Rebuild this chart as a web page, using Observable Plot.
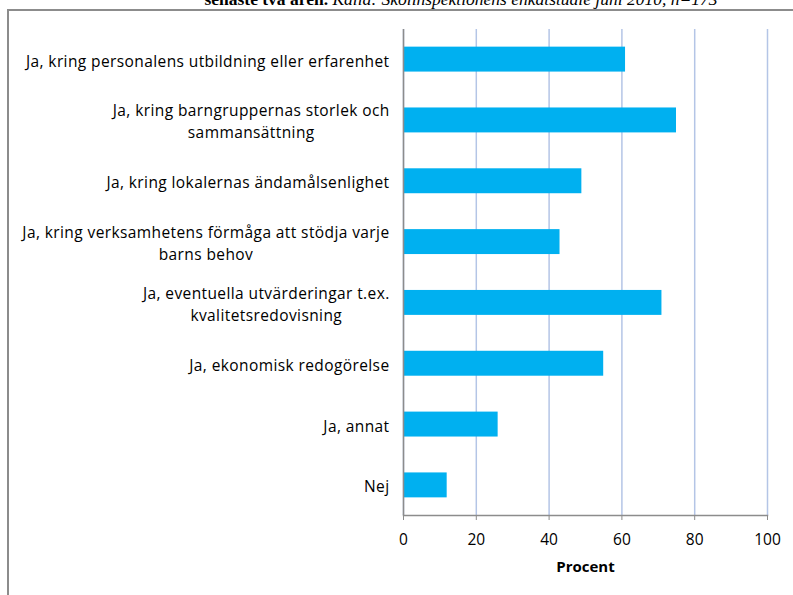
<!DOCTYPE html>
<html><head><meta charset="utf-8">
<script src="https://cdn.jsdelivr.net/npm/d3@7"></script>
<script src="https://cdn.jsdelivr.net/npm/@observablehq/plot@0.6"></script>
<style>
body{margin:0;background:#fff;width:793px;height:595px;overflow:hidden;position:relative;font-family:"Open Sans",sans-serif}
#frame{position:absolute;left:7px;top:9px;width:800px;height:600px;border-left:2px solid #8c8c8c;border-top:2px solid #8c8c8c}
#title{position:absolute;top:-11px;left:0;width:922px;text-align:center;font-family:"Liberation Serif",serif;font-size:17.5px;line-height:20px;white-space:nowrap;color:#000}
#chart{position:absolute;left:0;top:0}
#chart g[aria-label="y-axis tick label"] text{letter-spacing:0.4px}
</style></head><body>
<div id="title"><b>senaste två åren.</b> <i>Källa: Skolinspektionens enkätstudie juni 2010, n=173</i></div>
<div id="frame"></div>
<div id="chart"></div>
<script>
const categories = [
  "Ja, kring personalens utbildning eller erfarenhet",
  "Ja, kring barngruppernas storlek och\nsammansättning",
  "Ja, kring lokalernas ändamålsenlighet",
  "Ja, kring verksamhetens förmåga att stödja varje\nbarns behov",
  "Ja, eventuella utvärderingar t.ex.\nkvalitetsredovisning",
  "Ja, ekonomisk redogörelse",
  "Ja, annat",
  "Nej"
];
const values = [61, 75, 49, 43, 71, 55, 26, 12];
const xTicks = [0, 20, 40, 60, 80, 100];
const xLabel = "Procent";

const data = categories.map((c, i) => ({category: c, value: values[i]}));

const plot = Plot.plot({
  width: 793, height: 595,
  marginLeft: 403, marginRight: 26, marginTop: 29, marginBottom: 80,
  style: {fontFamily: "'Open Sans', sans-serif", fontSize: "15.5px", background: "transparent", color: "#000"},
  x: {domain: [0, 100], ticks: xTicks, label: null},
  y: {domain: categories, paddingInner: 0.59, paddingOuter: 0.29, round: false, label: null},
  marks: [
    Plot.gridX(xTicks, {stroke: "#b4c5e6", strokeOpacity: 1, strokeWidth: 1.5}),
    Plot.barX(data, {x: "value", y: "category", fill: "#00b0f0"}),
    Plot.ruleX([0], {stroke: "#8c8c8c", strokeWidth: 1.5}),
    Plot.frame({anchor: "bottom", stroke: "#8c8c8c", strokeWidth: 1.5}),
    Plot.axisX(xTicks, {tickSize: 5, tickPadding: 13, stroke: "#8c8c8c", fill: "#000", fontSize: 15.5, label: null}),
    Plot.axisY({tickSize: 0, tickPadding: 14, lineHeight: 1.42, fill: "#000", fontSize: 15.5, label: null}),
    Plot.text([xLabel], {frameAnchor: "bottom", dy: 56, fontWeight: "bold", fontSize: 15, fill: "#000"})
  ]
});
document.getElementById("chart").appendChild(plot);

// Center multi-line category labels on each other (right-aligned block)
d3.select(plot).selectAll('g[aria-label="y-axis tick label"] text').each(function() {
  const tspans = this.querySelectorAll("tspan");
  if (tspans.length < 2) return;
  const b = this.getBBox();
  const R = b.x + b.width;
  let maxW = 0;
  tspans.forEach(t => { maxW = Math.max(maxW, t.getComputedTextLength()); });
  this.setAttribute("text-anchor", "middle");
  tspans.forEach(t => t.setAttribute("x", R - maxW / 2));
  const b2 = this.getBBox();
  const delta = R - (b2.x + b2.width);
  tspans.forEach(t => t.setAttribute("x", R - maxW / 2 + delta));
});
</script>
</body></html>
